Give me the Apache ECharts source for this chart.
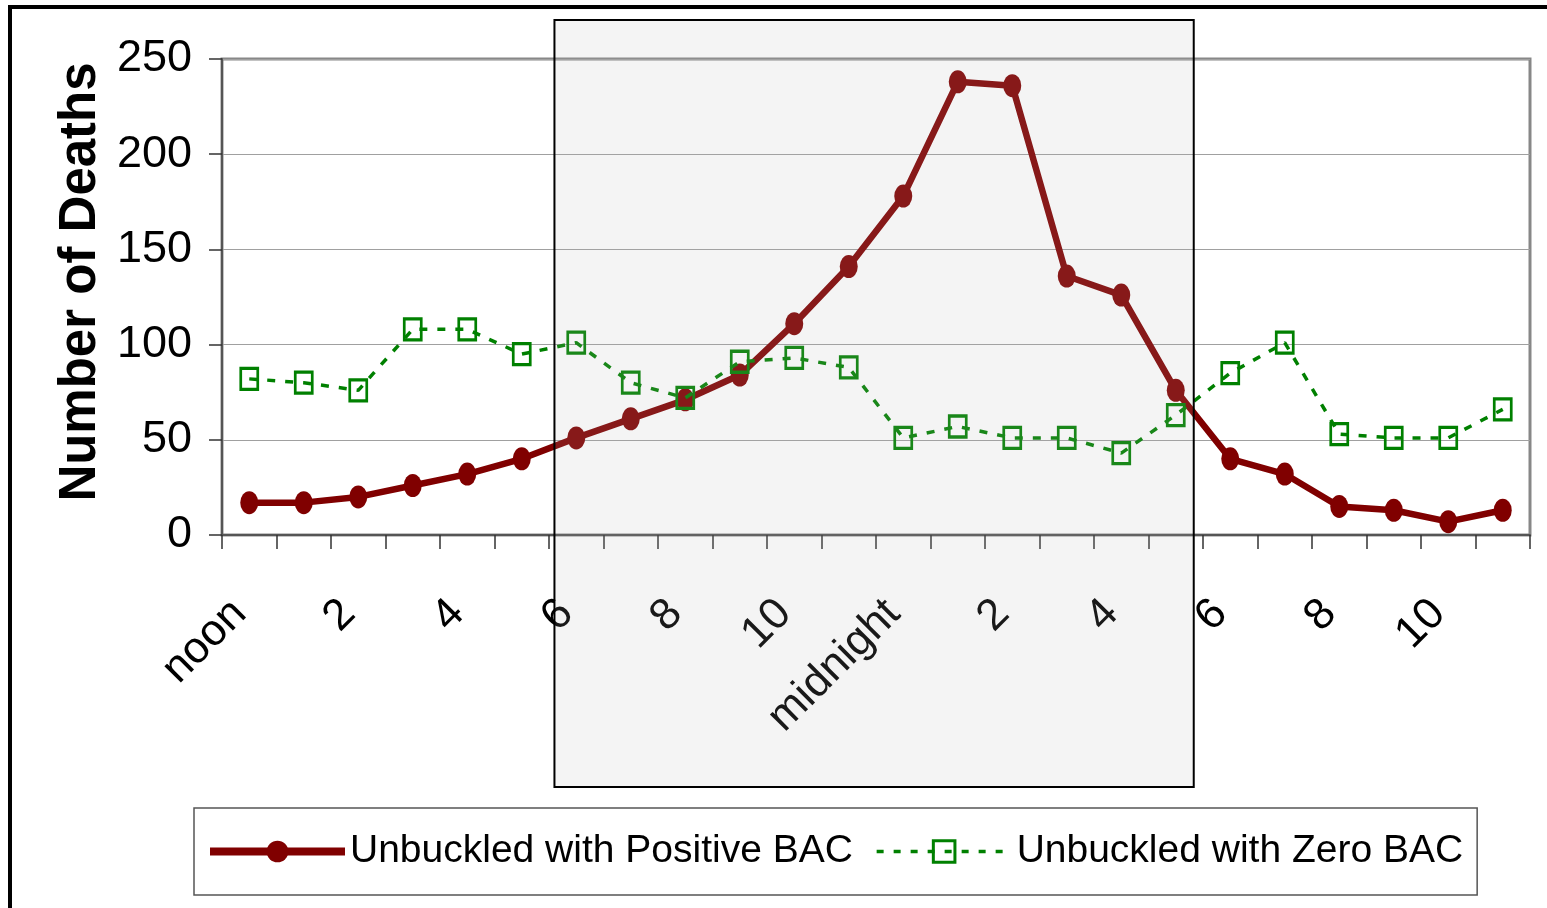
<!DOCTYPE html>
<html>
<head>
<meta charset="utf-8">
<script src="https://cdn.jsdelivr.net/npm/echarts@6/dist/echarts.min.js"></script>
<style>
  html, body { margin: 0; padding: 0; background: #fff; overflow: hidden; }
  #chart { width: 1547px; height: 908px; }
</style>
</head>
<body>
<div id="chart"></div>
<script>
// ---- data ----
const hours = ['noon','1','2','3','4','5','6','7','8','9','10','11',
               'midnight','1','2','3','4','5','6','7','8','9','10','11'];
const positiveBAC = [17, 17, 20, 26, 32, 40, 51, 61, 71, 84, 111, 141,
                     178, 238, 236, 136, 126, 76, 40, 32, 15, 13, 7, 13];
const zeroBAC = [82, 80, 76, 108, 108, 95, 101, 80, 72, 91, 93, 88,
                 51, 57, 51, 51, 43, 63, 85, 101, 53, 51, 51, 66];
const yTicks = { min: 0, max: 250, interval: 50 };
const seriesNames = ['Unbuckled with Positive BAC', 'Unbuckled with Zero BAC'];
const nightStart = 6, nightEnd = 17; // category indices spanned by shading

const SANS = "'Liberation Sans', Arial, sans-serif";
const RED = '#800000', GREEN = '#008000';
const chart = echarts.init(document.getElementById('chart'));

const option = {
  animation: false,
  backgroundColor: '#fff',
  grid: {
    left: 222, right: 17, top: 59, bottom: 373,
    show: true, borderColor: '#878787', borderWidth: 3, backgroundColor: 'transparent'
  },
  legend: {
    left: 194, top: 808,
    padding: [24, 14, 24, 12],
    borderColor: '#555', borderWidth: 1.5,
    itemWidth: 135, itemHeight: 27, itemGap: 22,
    textStyle: { fontFamily: SANS, fontSize: 39, color: '#000' },
    data: [
      { name: seriesNames[0], lineStyle: { color: RED, width: 8 },
        itemStyle: { color: RED } },
      { name: seriesNames[1], lineStyle: { color: GREEN, width: 3.5, type: [7, 10] },
        itemStyle: { color: 'rgba(0,0,0,0)', borderColor: GREEN, borderWidth: 3 } }
    ]
  },
  xAxis: {
    type: 'category',
    data: hours,
    boundaryGap: true,
    axisLine: { lineStyle: { color: '#555', width: 2 } },
    axisTick: { show: true, interval: 0, length: 14, lineStyle: { color: '#333', width: 1.5 } },
    axisLabel: {
      interval: 1, rotate: 45, margin: 62,
      padding: [0, 14, 0, 0],
      fontFamily: SANS, fontSize: 44, color: '#000'
    },
    splitLine: { show: false }
  },
  yAxis: {
    type: 'value',
    min: yTicks.min, max: yTicks.max, interval: yTicks.interval,
    name: 'Number of Deaths',
    nameLocation: 'middle',
    nameRotate: 90,
    nameGap: 112,
    nameTextStyle: {
      fontFamily: SANS, fontWeight: 'bold', fontSize: 51, color: '#000',
      padding: [0, 0, 0, 30]
    },
    axisLine: { show: true, lineStyle: { color: '#555', width: 2 } },
    axisTick: { show: true, length: 13, lineStyle: { color: '#333', width: 1.5 } },
    axisLabel: { fontFamily: SANS, fontSize: 45, color: '#000', margin: 30 },
    splitLine: { lineStyle: { color: '#a0a0a0', width: 1 } }
  },
  series: [
    {
      name: seriesNames[0],
      type: 'line',
      data: positiveBAC,
      symbol: 'circle',
      symbolSize: [18, 23],
      lineStyle: { color: RED, width: 6.5 },
      itemStyle: { color: RED },
      z: 3
    },
    {
      name: seriesNames[1],
      type: 'line',
      data: zeroBAC,
      symbol: 'rect',
      symbolSize: [17, 21],
      lineStyle: { color: GREEN, width: 3.5, type: [8, 10] },
      itemStyle: { color: 'rgba(0,0,0,0)', borderColor: GREEN, borderWidth: 3 },
      z: 4
    }
  ]
};
chart.setOption(option);

// night shading rectangle positioned from the category axis
const p0 = chart.convertToPixel({ xAxisIndex: 0 }, nightStart);
const p1 = chart.convertToPixel({ xAxisIndex: 0 }, nightStart + 1);
const pe = chart.convertToPixel({ xAxisIndex: 0 }, nightEnd);
const step = p1 - p0;
const rx0 = p0 - 0.4 * step, rx1 = pe + 0.33 * step;

chart.setOption({
  graphic: [
    {
      type: 'rect', z: 100, silent: true,
      shape: { x: rx0, y: 20, width: rx1 - rx0, height: 767 },
      style: { fill: 'rgba(175,175,175,0.14)', stroke: '#000', lineWidth: 2 }
    },
    {
      type: 'rect', z: 100, silent: true,
      shape: { x: 10, y: 7, width: 1700, height: 1100 },
      style: { fill: 'none', stroke: '#000', lineWidth: 4 }
    }
  ]
});
</script>
</body>
</html>
